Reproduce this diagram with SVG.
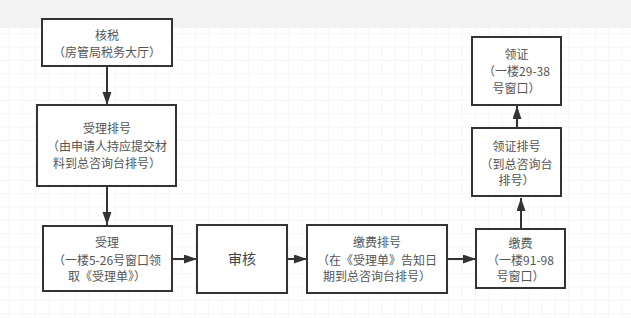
<svg xmlns="http://www.w3.org/2000/svg" width="631" height="318" viewBox="0 0 631 318">
  <style>
    .box { fill: #ffffff; stroke: #333333; stroke-width: 2; }
    .t { font-family: "Noto Sans CJK SC", "Microsoft YaHei", sans-serif; font-size: 12px; fill: #555555; text-anchor: middle; }
    .big { font-size: 14px; fill: #444444; }
    .edge { stroke: #333333; stroke-width: 2; fill: none; }
  </style>
  <defs>
    <pattern id="grid" x="8.4" y="33.3" width="13.33" height="13.33" patternUnits="userSpaceOnUse">
      <path d="M0 0 H13.33 M0 0 V13.33" stroke="#ebebeb" stroke-width="1" fill="none"/>
    </pattern>
    <marker id="arr" markerUnits="userSpaceOnUse" markerWidth="14" markerHeight="10" refX="13" refY="4.5" orient="auto">
      <path d="M0 0 L13 4.5 L0 9 Z" fill="#333333"/>
    </marker>
  </defs>
  <rect x="0" y="0" width="631" height="318" fill="#ffffff"/>
  <rect x="0" y="28" width="631" height="290" fill="url(#grid)"/>
  <rect x="0" y="0" width="631" height="28" fill="#f3f3f3"/>

  <g id="connectors">
    <line class="edge" x1="107" y1="66" x2="107" y2="105" marker-end="url(#arr)"/>
    <line class="edge" x1="107" y1="186" x2="107" y2="225" marker-end="url(#arr)"/>
    <line class="edge" x1="172" y1="259" x2="197" y2="259" marker-end="url(#arr)"/>
    <line class="edge" x1="287" y1="259" x2="307" y2="259" marker-end="url(#arr)"/>
    <line class="edge" x1="447" y1="259" x2="476" y2="259" marker-end="url(#arr)"/>
    <line class="edge" x1="521" y1="229" x2="521" y2="198" marker-end="url(#arr)"/>
    <line class="edge" x1="517" y1="128" x2="517" y2="106" marker-end="url(#arr)"/>
  </g>

  <g id="node-heshui">
    <rect class="box" x="42" y="19" width="130" height="47"/>
    <text class="t" x="107" y="39.5">核税</text>
    <text class="t" x="107" y="56.5">（房管局税务大厅）</text>
  </g>

  <g id="node-shouli-paihao">
    <rect class="box" x="37" y="105" width="139" height="81"/>
    <text class="t" x="107" y="132.5">受理排号</text>
    <text class="t" x="107" y="150.5">（由申请人持应提交材</text>
    <text class="t" x="107" y="167.5">料到总咨询台排号）</text>
  </g>

  <g id="node-shouli">
    <rect class="box" x="43" y="226" width="129" height="65"/>
    <text class="t" x="107" y="247">受理</text>
    <text class="t" x="107" y="264.5">（一楼5-26号窗口领</text>
    <text class="t" x="107" y="280.5">取《受理单》）</text>
  </g>

  <g id="node-shenhe">
    <rect class="box" x="197" y="225" width="90" height="68"/>
    <text class="t big" x="242" y="264">审核</text>
  </g>

  <g id="node-jiaofei-paihao">
    <rect class="box" x="307" y="225" width="140" height="68"/>
    <text class="t" x="377" y="247">缴费排号</text>
    <text class="t" x="377" y="264.5">（在《受理单》告知日</text>
    <text class="t" x="377" y="280.5">期到总咨询台排号）</text>
  </g>

  <g id="node-jiaofei">
    <rect class="box" x="476" y="229" width="89" height="59"/>
    <text class="t" x="520.5" y="247.5">缴费</text>
    <text class="t" x="520.5" y="264.5">（一楼91-98</text>
    <text class="t" x="520.5" y="280.5">号窗口）</text>
  </g>

  <g id="node-lingzheng-paihao">
    <rect class="box" x="472" y="128" width="89" height="68"/>
    <text class="t" x="516.5" y="151">领证排号</text>
    <text class="t" x="516.5" y="168.5">（到总咨询台</text>
    <text class="t" x="516.5" y="184.5">排号）</text>
  </g>

  <g id="node-lingzheng">
    <rect class="box" x="472" y="37" width="89" height="68"/>
    <text class="t" x="516.5" y="58.5">领证</text>
    <text class="t" x="516.5" y="75.5">（一楼29-38</text>
    <text class="t" x="516.5" y="92.5">号窗口）</text>
  </g>
</svg>
